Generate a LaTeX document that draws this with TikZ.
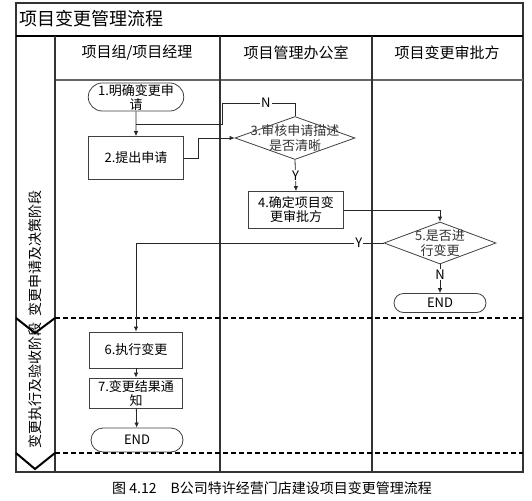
\documentclass[tikz,border=0pt]{standalone}
\usepackage{fontspec}
\setmainfont{Noto Sans CJK SC}
\usetikzlibrary{shapes.geometric,shapes.misc,arrows.meta}

\begin{document}
\begin{tikzpicture}[x=1pt,y=-1pt,>={Latex[length=5pt,width=4.5pt]},
	frame/.style={draw=black!80,line width=1.1pt},
	line/.style={draw=black!85,line width=0.8pt},
	lbl/.style={fill=white,inner sep=1pt,font=\fontsize{13}{14}\selectfont},
	main node/.style={draw=black!75,line width=0.8pt,align=center,inner sep=1pt,font=\fontsize{13}{14}\selectfont},
	box node/.style={main node,rectangle,minimum width=95pt},
	end node/.style={main node,rounded rectangle,minimum width=94pt},
	decision/.style={main node,diamond,inner sep=0pt},
	dtext/.style={align=center,text=black!80,inner sep=0pt,font=\fontsize{13}{15}\selectfont}]
	\useasboundingbox (0,0) rectangle (532,500);
	
	% frame and lanes
	\draw[frame] (16,3) rectangle (523,472);
	\draw[line width=1.6pt] (16,36) -- (523,36);
	\draw[draw=black!60,line width=1.6pt] (55,80) -- (523,80);
	\foreach \x in {55,220,372}
		\draw[frame] (\x,36) -- (\x,472);
	\foreach \y in {318,453}
		\draw[line width=1.8pt,dash pattern=on 5pt off 3pt] (55,\y) -- (523,\y);
	\draw[line width=2pt] (16,318) -- (35,333) -- (55,318);
	\draw[line width=2pt] (16,453) -- (35,469) -- (55,453);
	
	\node[anchor=west,font=\fontsize{18}{20}\selectfont] (title) at (16,19) {项目变更管理流程};
	\node[font=\fontsize{15}{17}\selectfont] (h1) at (137,53) {项目组/项目经理};
	\node[font=\fontsize{15}{17}\selectfont] (h2) at (296,53) {项目管理办公室};
	\node[font=\fontsize{15}{17}\selectfont] (h3) at (447,53) {项目变更审批方};
	\node[rotate=90,font=\fontsize{14}{15}\selectfont] (p1) at (35,253) {变更申请及决策阶段};
	\node[rotate=90,font=\fontsize{14}{15}\selectfont] (p2) at (35,385) {变更执行及验收阶段};
	
	% steps
	\node[end node,minimum height=27pt] (1) at (136,97) {1.明确变更申\\请};
	\node[box node,minimum height=43pt] (2) at (136,158) {2.提出申请};
	\node[decision,minimum width=120pt,minimum height=43pt,label={[dtext]center:3.审核申请描述\\是否清晰}] (3) at (295,138) {};
	\node[box node,minimum height=37pt] (4) at (296,210) {4.确定项目变\\更审批方};
	\node[decision,minimum width=112pt,minimum height=42pt,label={[dtext]center:5.是否进\\行变更}] (5) at (440,243) {};
	\node[end node,minimum height=19pt] (e1) at (440,303) {END};
	\node[box node,minimum width=93pt,minimum height=36pt] (6) at (136,350) {6.执行变更};
	\node[box node,minimum width=93pt,minimum height=30pt] (7) at (136,393) {7.变更结果通\\知};
	\node[end node,minimum height=24pt] (e2) at (137,440) {END};
	
	\coordinate (j) at (136,124);
	\draw[line,->] (1) -- (2);
	\draw[line] (3.north) |- node[lbl,pos=0.7] {N} (222,103) |- (j);
	\draw[line,->] (2.east) -- ++(14,0) |- (3.west);
	\draw[line,->] (3.south) -- node[lbl] {Y} (4.north);
	\draw[line,->] (4.east) -| (5.north);
	\draw[line,->] (5.west) -| node[lbl,pos=0.05] {Y} (6.north);
	\draw[line,->] (5.south) -- node[lbl,pos=0.35] {N} (e1.north);
	\draw[line,->] (6) -- (7);
	\draw[line,->] (7) -- (e2);
	
	\node[font=\fontsize{14}{16}\selectfont] (cap) at (272,488) {图 4.12\quad B公司特许经营门店建设项目变更管理流程};
\end{tikzpicture}
\end{document}
